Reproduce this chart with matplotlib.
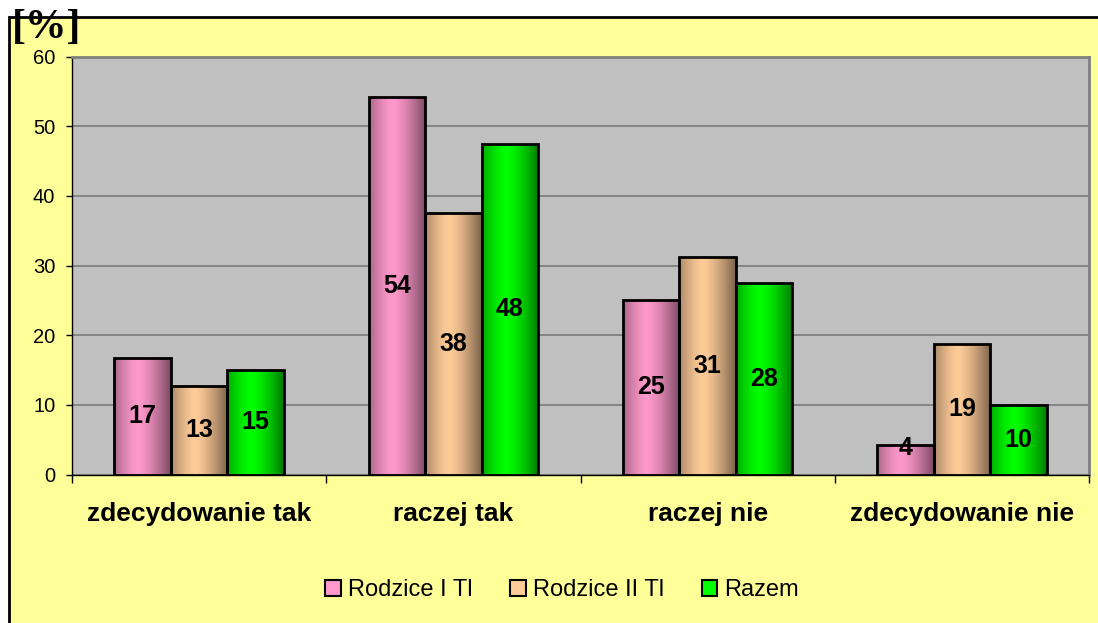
import numpy as np
import matplotlib
matplotlib.use('Agg')
import matplotlib.pyplot as plt
from matplotlib.patches import Rectangle, Patch
from matplotlib.colors import to_rgb

plt.rcParams['font.family'] = ['Liberation Sans', 'DejaVu Sans']

# Data
categories = ['zdecydowanie tak', 'raczej tak', 'raczej nie', 'zdecydowanie nie']
series_names = ['Rodzice I Tl', 'Rodzice II Tl', 'Razem']
rodzice_1 = [16.7, 54.2, 25.0, 4.3]
rodzice_2 = [12.7, 37.6, 31.3, 18.7]
razem = [15.0, 47.5, 27.5, 10.0]
labels_1 = [17, 54, 25, 4]
labels_2 = [13, 38, 31, 19]
labels_3 = [15, 48, 28, 10]

colors = ['#FF99CC', '#FFCC99', '#00FF00']
bg_yellow = '#FFFF99'
plot_gray = '#C0C0C0'

fig = plt.figure(figsize=(10.98, 6.23), dpi=100)
fig.patch.set_facecolor('white')

# outer yellow frame (cut off at right and bottom)
frame = Rectangle((8.5 / 1098, -0.05), 1.1, 1 - 16.5 / 623 + 0.05,
                  transform=fig.transFigure, facecolor=bg_yellow,
                  edgecolor='black', linewidth=2, zorder=-10)
fig.patches.append(frame)

ax = fig.add_axes([72 / 1098, 1 - 474.5 / 623, (1089 - 72) / 1098, (474.5 - 56.7) / 623])
ax.set_facecolor(plot_gray)

x = np.arange(len(categories))
width = 0.222
all_values = [rodzice_1, rodzice_2, razem]
all_labels = [labels_1, labels_2, labels_3]

def gradient_row(color, n=200):
    base = np.array(to_rgb(color))
    u = np.linspace(0, 1, n)
    mix = np.clip(np.abs(u - 0.42) / 0.58, 0, 1) ** 1.4
    rows = base[None, :] * (1 - 0.52 * mix[:, None])
    return rows[None, :, :]

for i, (vals, labs) in enumerate(zip(all_values, all_labels)):
    offset = (i - 1) * width
    bars = ax.bar(x + offset, vals, width, facecolor='none', edgecolor='black',
                  linewidth=2, zorder=3)
    grad = gradient_row(colors[i])
    for patch, lab in zip(bars.patches, labs):
        x0, w, h = patch.get_x(), patch.get_width(), patch.get_height()
        ax.imshow(grad, extent=[x0, x0 + w, 0, h], aspect='auto',
                  interpolation='bilinear', zorder=2)
        ax.text(x0 + w / 2, max(h / 2, 3.8), str(lab), ha='center', va='center',
                fontsize=18, fontweight='bold', zorder=4)

ax.set_xlim(-0.5, len(categories) - 0.5)
ax.set_ylim(0, 60)
ax.set_aspect('auto')

ax.set_yticks(range(0, 61, 10))
ax.yaxis.grid(True, color='#808080', linewidth=1.3, zorder=1)
ax.set_axisbelow(True)
ax.tick_params(axis='y', direction='out', length=4, width=1, labelsize=14.5, pad=8)

ax.set_xticks(x)
ax.set_xticklabels(categories, fontsize=19, fontweight='bold')
ax.set_xticks(np.arange(-0.5, len(categories), 1), minor=True)
ax.tick_params(axis='x', which='major', length=0, pad=20)
ax.tick_params(axis='x', which='minor', direction='out', length=6, width=1)

for side in ['top', 'right']:
    ax.spines[side].set_color('#808080')
    ax.spines[side].set_linewidth(2)
for side in ['left', 'bottom']:
    ax.spines[side].set_color('black')
    ax.spines[side].set_linewidth(1)

fig.text(12 / 1098, 1 - 28 / 623, '[%]', family=['Liberation Serif', 'DejaVu Serif'],
         fontsize=30, fontweight='bold', ha='left', va='center')

handles = [Patch(facecolor=c, edgecolor='black', linewidth=1.5) for c in colors]
fig.legend(handles, series_names, loc='center', bbox_to_anchor=(562 / 1098, 1 - 590 / 623),
           ncol=3, frameon=False, fontsize=17, handlelength=0.65, handleheight=0.65,
           handletextpad=0.3, columnspacing=1.6)

fig.savefig('out.png', dpi=100, facecolor=fig.get_facecolor())
